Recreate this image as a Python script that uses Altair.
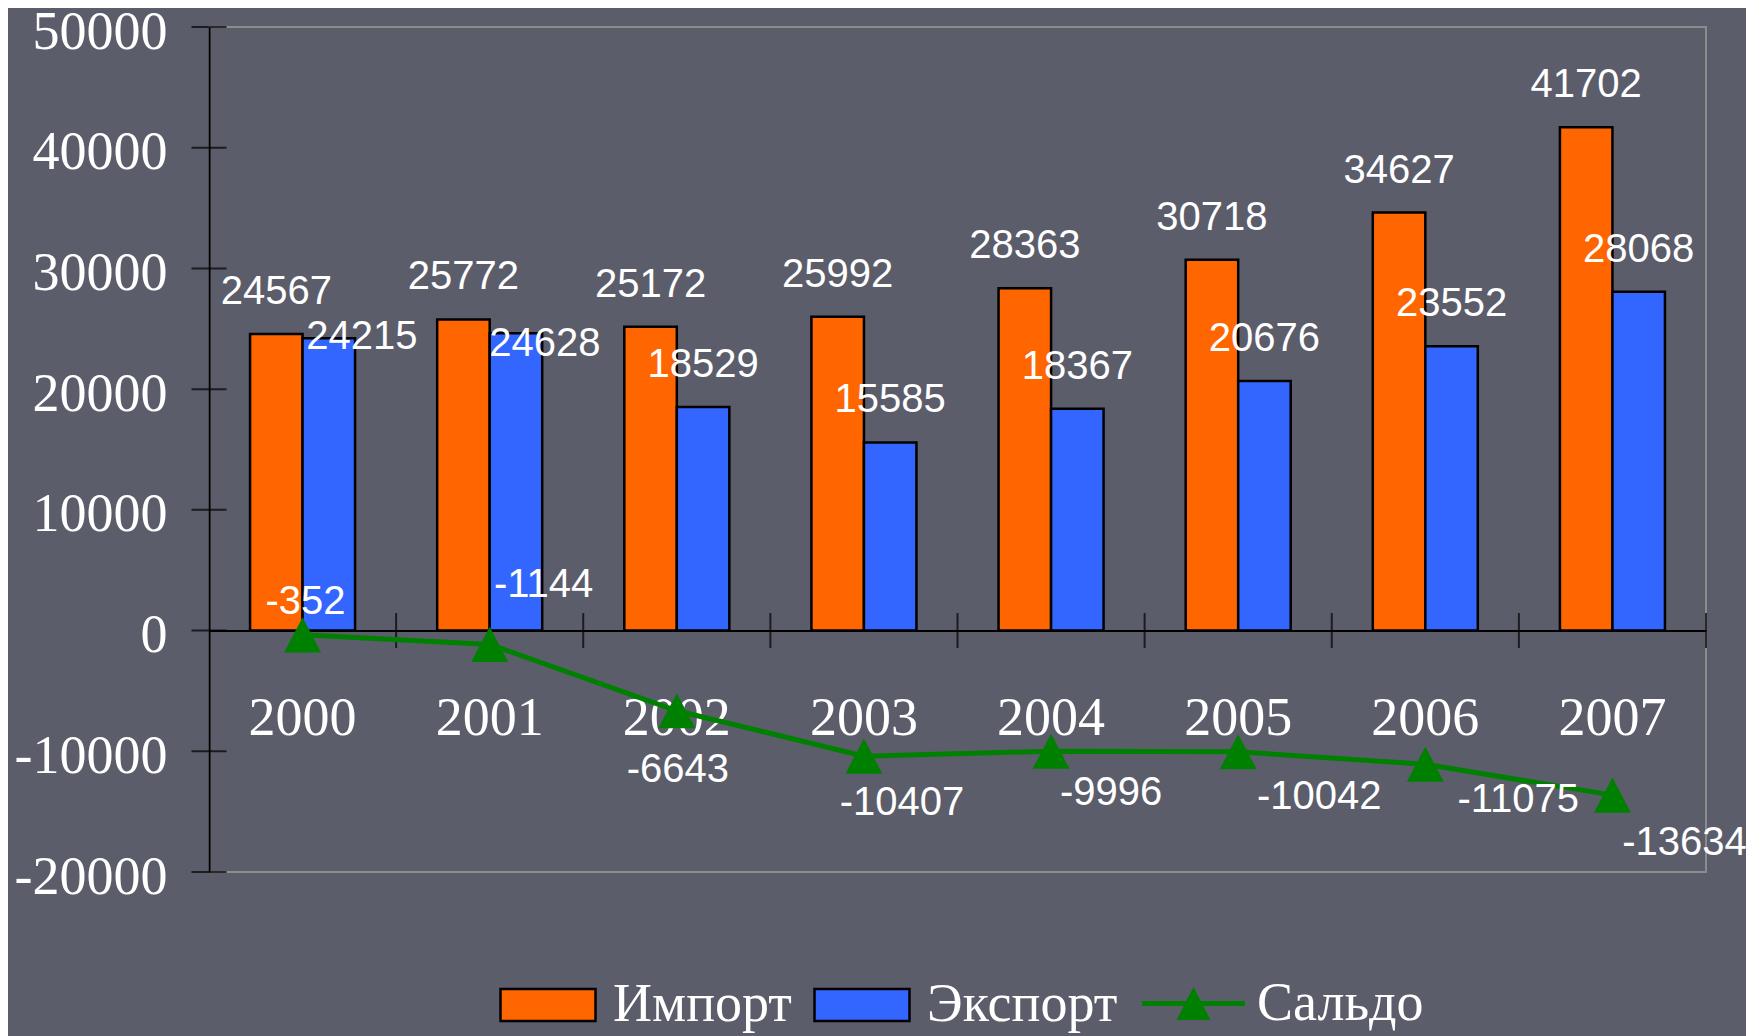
import altair as alt
import pandas as pd

years = ["2000", "2001", "2002", "2003", "2004", "2005", "2006", "2007"]
imports = [24567, 25772, 25172, 25992, 28363, 30718, 34627, 41702]
exports = [24215, 24628, 18529, 15585, 18367, 20676, 23552, 28068]
saldo = [-352, -1144, -6643, -10407, -9996, -10042, -11075, -13634]
y_ticks = [-20000, -10000, 0, 10000, 20000, 30000, 40000, 50000]

IMP, EXP, SAL = "Импорт", "Экспорт", "Сальдо"
series_names = [IMP, EXP, SAL]
series_colors = ["#FF6600", "#3366FF", "#008000"]

bars_df = pd.DataFrame({
    "year": years * 2,
    "series": [IMP] * len(years) + [EXP] * len(years),
    "value": imports + exports,
})
saldo_df = pd.DataFrame({"year": years, "series": [SAL] * len(years), "value": saldo})
ticks_df = pd.DataFrame({"tick": y_ticks})
legend_bars_df = pd.DataFrame({"series": [IMP, EXP]})
legend_line_df = pd.DataFrame({"series": [SAL]})

# styling: label offsets (pixels)
saldo_offsets = {"2000": (3, -33), "2001": (54, -59), "2002": (1, 59), "2003": (38, 47),
                 "2004": (60, 42), "2005": (81, 45), "2006": (93, 36), "2007": (72, 48)}
export_special = {"2000": (33, -1), "2001": (29, 11)}

W, H = 1497, 845
LABEL_FONT = "Liberation Sans"
AXIS_FONT = "Liberation Serif"

RECT_PATH = "M-1,-0.337H1V0.337H-1Z"
LINE_PATH = "M-1,-0.05H1V0.05H-1Z M-0.33,0.32L0,-0.32L0.33,0.32Z"
TRI_PATH = "M-1,0.95L0,-0.95L1,0.95Z"

x_enc = alt.X("year:N", sort=years,
              scale=alt.Scale(paddingInner=0, paddingOuter=0),
              axis=alt.Axis(title=None, domain=True, domainColor="black", domainWidth=2,
                            ticks=False, labelAngle=0, labelFont=AXIS_FONT, labelFontSize=54,
                            labelColor="white", labelPadding=61, offset=-241.4, grid=False))
xoff_enc = alt.XOffset("series:N", scale=alt.Scale(domain=[IMP, EXP], paddingOuter=0.782, paddingInner=0))
y_enc = alt.Y("value:Q",
              scale=alt.Scale(domain=[-20000, 50000], nice=False, zero=False),
              axis=alt.Axis(title=None, values=y_ticks, domain=True, domainColor="black",
                            domainWidth=2, ticks=False, grid=False, labelFont=AXIS_FONT,
                            labelFontSize=54, labelColor="white", labelPadding=42,
                            labelOffset=5, labelFlush=False, labelExpr="'' + datum.value"))

color_scale = alt.Scale(domain=series_names, range=series_colors)

legend_common = dict(orient="none", direction="horizontal", title=None, symbolOpacity=1,
                     labelFont=AXIS_FONT, labelFontSize=54, labelColor="white", labelLimit=400)

legend_bars = alt.Legend(legendX=290, legendY=929, symbolType=RECT_PATH, symbolSize=9025,
                         symbolStrokeColor="black", symbolStrokeWidth=2.5,
                         labelOffset=16, columnPadding=17, **legend_common)
legend_line = alt.Legend(legendX=933, legendY=925, symbolSize=10609, symbolStrokeWidth=0,
                         labelOffset=12, **legend_common)

# legend-only layers (marks placed off-canvas)
legend_layer_bars = alt.Chart(legend_bars_df).mark_point(
    filled=True, opacity=1, stroke="black", strokeWidth=2.5).encode(
    x=alt.value(-3000), y=alt.value(-3000),
    fill=alt.Fill("series:N", scale=alt.Scale(domain=[IMP, EXP], range=series_colors[:2]),
                  legend=legend_bars),
)
legend_layer_line = alt.Chart(legend_line_df).mark_point(
    filled=True, opacity=1, color=series_colors[2]).encode(
    x=alt.value(-3000), y=alt.value(-3000),
    shape=alt.Shape("series:N", scale=alt.Scale(domain=[SAL], range=[LINE_PATH]), legend=legend_line),
)

bars = alt.Chart(bars_df).mark_bar(stroke="black", strokeWidth=2.5).encode(
    x=x_enc, xOffset=xoff_enc, y=y_enc,
    color=alt.Color("series:N", scale=color_scale, legend=None))

yticks = alt.Chart(ticks_df).mark_tick(orient="horizontal", size=35, thickness=2, color="black").encode(
    y=alt.Y("tick:Q"), x=alt.value(0))

xticks = alt.Chart(saldo_df).mark_tick(orient="vertical", size=35, thickness=2, color="black").encode(
    x=alt.X("year:N", sort=years, bandPosition=1), y=alt.datum(0))

text_props = dict(font=LABEL_FONT, fontSize=40, color="white", baseline="middle", align="center")

lbl = "'' + datum.value"
imp_labels = alt.Chart(bars_df).transform_filter(
    alt.datum.series == IMP).transform_calculate(lbl=lbl).mark_text(dy=-42, **text_props).encode(
    x=alt.X("year:N", sort=years), xOffset=xoff_enc, y="value:Q", text="lbl:N")

exp_regular = alt.Chart(bars_df).transform_filter(
    (alt.datum.series == EXP) & (alt.datum.year >= "2002")).transform_calculate(lbl=lbl).mark_text(
    dy=-42, **text_props).encode(
    x=alt.X("year:N", sort=years), xOffset=xoff_enc, y="value:Q", text="lbl:N")

layers = [legend_layer_bars, legend_layer_line, bars, yticks, xticks, imp_labels, exp_regular]

for yr, (dx, dy) in export_special.items():
    layers.append(alt.Chart(bars_df).transform_filter(
        (alt.datum.series == EXP) & (alt.datum.year == yr)).transform_calculate(lbl=lbl).mark_text(
        dx=dx, dy=dy, **text_props).encode(
        x=alt.X("year:N", sort=years), xOffset=xoff_enc, y="value:Q", text="lbl:N"))

line = alt.Chart(saldo_df).mark_line(strokeWidth=5).encode(
    x=alt.X("year:N", sort=years), y="value:Q", color=alt.Color("series:N", legend=None))
points = alt.Chart(saldo_df).mark_point(shape=TRI_PATH, size=1369, filled=True, opacity=1).encode(
    x=alt.X("year:N", sort=years), y="value:Q", color=alt.Color("series:N", legend=None))
layers += [line, points]

for yr, (dx, dy) in saldo_offsets.items():
    layers.append(alt.Chart(saldo_df).transform_filter(alt.datum.year == yr).transform_calculate(
        lbl=lbl).mark_text(dx=dx, dy=dy, **text_props).encode(
        x=alt.X("year:N", sort=years), y="value:Q", text="lbl:N"))

chart = alt.layer(*layers).properties(
    width=W, height=H,
    autosize=alt.AutoSizeParams(type="none"),
    padding={"left": 201, "top": 19, "right": 40, "bottom": 164},
    background="#5B5D6B",
).configure_view(stroke="#8C8C8C", strokeWidth=2)

chart.save("out.html", embed_options={"renderer": "svg", "actions": False})
